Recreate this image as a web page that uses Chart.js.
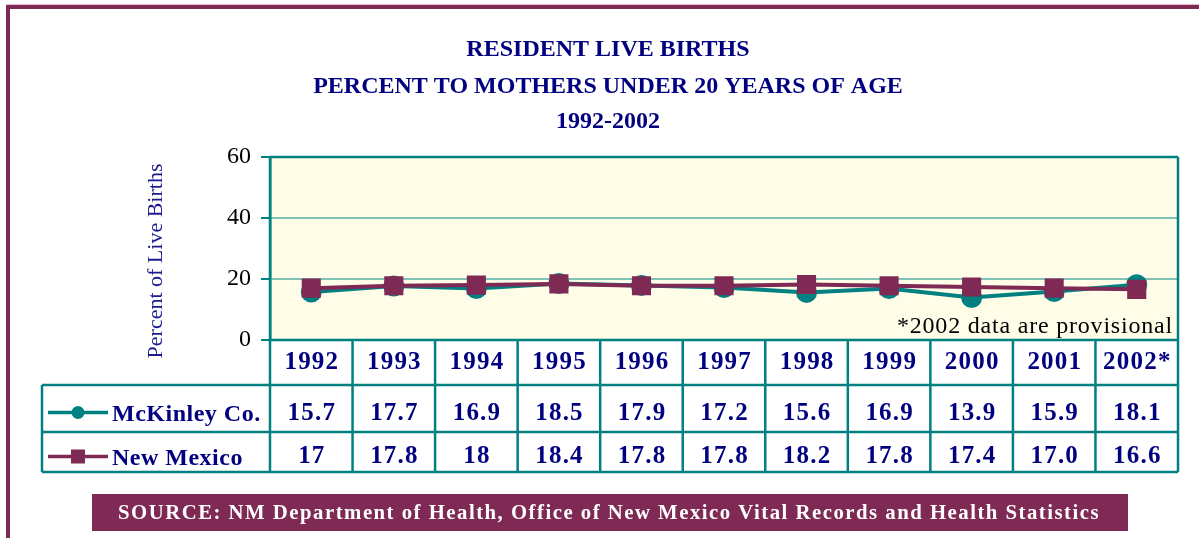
<!DOCTYPE html>
<html>
<head>
<meta charset="utf-8">
<script src="https://cdn.jsdelivr.net/npm/chart.js@4.4.1/dist/chart.umd.min.js"></script>
<style>
  body { margin: 0; background: #fff; }
  canvas { display: block; }
</style>
</head>
<body>
<canvas id="birthsChart" width="1199" height="538"></canvas>
<script>
// data
const years = ['1992', '1993', '1994', '1995', '1996', '1997', '1998', '1999', '2000', '2001', '2002'];
const yearLabels = ['1992', '1993', '1994', '1995', '1996', '1997', '1998', '1999', '2000', '2001', '2002*'];
const mckinley = [15.7, 17.7, 16.9, 18.5, 17.9, 17.2, 15.6, 16.9, 13.9, 15.9, 18.1];
const newMexico = [17, 17.8, 18, 18.4, 17.8, 17.8, 18.2, 17.8, 17.4, 17.0, 16.6];
const mckinleyText = ['15.7', '17.7', '16.9', '18.5', '17.9', '17.2', '15.6', '16.9', '13.9', '15.9', '18.1'];
const newMexicoText = ['17', '17.8', '18', '18.4', '17.8', '17.8', '18.2', '17.8', '17.4', '17.0', '16.6'];
const yTicks = [0, 20, 40, 60];

const titleLines = ['RESIDENT LIVE BIRTHS', 'PERCENT TO MOTHERS UNDER 20 YEARS OF AGE', '1992-2002'];
const yTitle = 'Percent of Live Births';
const noteText = '*2002 data are provisional';
const sourceText = 'SOURCE: NM Department of Health, Office of New Mexico Vital Records and Health Statistics';

const TEAL = '#008080';
const MAROON = '#7f2a55';
const NAVY = '#000080';
const SERIF = '"Liberation Serif", "Times New Roman", serif';

function line(ctx, x1, y1, x2, y2) {
  ctx.beginPath();
  ctx.moveTo(x1, y1);
  ctx.lineTo(x2, y2);
  ctx.stroke();
}

// background, frame and plot area fill
const backPlugin = {
  id: 'back',
  beforeDraw(chart) {
    const ctx = chart.ctx, a = chart.chartArea;
    ctx.save();
    ctx.fillStyle = '#fff';
    ctx.fillRect(0, 0, chart.width, chart.height);
    ctx.fillStyle = '#fffde8';
    ctx.fillRect(a.left, a.top, a.right - a.left, a.bottom - a.top);
    // outer frame (left + top)
    ctx.strokeStyle = '#e8b4cc';
    ctx.lineWidth = 1;
    line(ctx, 7, 4.5, chart.width, 4.5);
    ctx.strokeStyle = MAROON;
    ctx.lineWidth = 4;
    line(ctx, 8, 7, chart.width, 7);
    line(ctx, 8, 5, 8, chart.height);
    ctx.restore();
  }
};

// title, axis title, table, legend, note and source box
const tablePlugin = {
  id: 'table',
  afterDraw(chart) {
    const ctx = chart.ctx, a = chart.chartArea, x = chart.scales.x;
    const cw = x.getPixelForValue(1) - x.getPixelForValue(0);
    const rowLines = [385, 432, 472];
    const tableLeft = 42;
    ctx.save();

    // title
    ctx.fillStyle = NAVY;
    ctx.font = 'bold 24px ' + SERIF;
    ctx.textAlign = 'center';
    ctx.textBaseline = 'alphabetic';
    const titleBase = [56, 93, 128];
    titleLines.forEach((t, i) => ctx.fillText(t, 608, titleBase[i]));

    // y axis title
    ctx.save();
    ctx.translate(162, 261);
    ctx.rotate(-Math.PI / 2);
    ctx.fillStyle = '#1a1a8c';
    ctx.font = '22px ' + SERIF;
    ctx.fillText(yTitle, 0, 0);
    ctx.restore();

    // note inside the plot
    ctx.fillStyle = '#000';
    ctx.font = '24px ' + SERIF;
    ctx.textAlign = 'right';
    ctx.letterSpacing = '0.8px';
    ctx.fillText(noteText, a.right - 5, 333);

    // table grid
    ctx.strokeStyle = TEAL;
    ctx.lineWidth = 2.5;
    rowLines.forEach(y => line(ctx, tableLeft, y, a.right, y));
    line(ctx, tableLeft, rowLines[0], tableLeft, rowLines[2]);
    for (let i = 0; i <= years.length; i++) {
      const bx = x.getPixelForValue(0) - cw / 2 + i * cw;
      line(ctx, bx, (i === 0 || i === years.length) ? a.top : a.bottom, bx, rowLines[2]);
    }
    line(ctx, a.left, a.top, a.right, a.top);
    line(ctx, a.left, a.bottom, a.right, a.bottom);

    // table text
    ctx.fillStyle = NAVY;
    ctx.font = 'bold 25px ' + SERIF;
    ctx.textAlign = 'center';
    ctx.letterSpacing = '1.2px';
    years.forEach((y, i) => {
      const cx = x.getPixelForValue(i) + 0.6;
      ctx.fillText(yearLabels[i], cx, 369);
      ctx.fillText(mckinleyText[i], cx, 420);
      ctx.fillText(newMexicoText[i], cx, 463);
    });

    // legend cells
    ctx.lineWidth = 3.5;
    ctx.strokeStyle = TEAL;
    line(ctx, 48, 412.5, 108, 412.5);
    ctx.fillStyle = TEAL;
    ctx.beginPath();
    ctx.arc(78, 412.5, 6.5, 0, Math.PI * 2);
    ctx.fill();
    ctx.strokeStyle = MAROON;
    line(ctx, 48, 456.5, 108, 456.5);
    ctx.fillStyle = MAROON;
    ctx.fillRect(71, 449.5, 14, 14);
    ctx.fillStyle = NAVY;
    ctx.font = 'bold 24px ' + SERIF;
    ctx.textAlign = 'left';
    ctx.letterSpacing = '0.5px';
    ctx.fillText('McKinley Co.', 112, 421);
    ctx.fillText('New Mexico', 112, 465);

    // source box
    ctx.fillStyle = MAROON;
    ctx.fillRect(92, 494, 1036, 37);
    ctx.fillStyle = '#fff';
    ctx.font = 'bold 21px ' + SERIF;
    ctx.letterSpacing = '1.5px';
    const w = ctx.measureText(sourceText).width;
    const target = 982;
    ctx.textAlign = 'left';
    ctx.translate(118, 519);
    ctx.scale(target / w, 1);
    ctx.fillText(sourceText, 0, 0);
    ctx.restore();
  }
};

const chrt = document.getElementById('birthsChart');
const birthsChart = new Chart(chrt, {
  type: 'line',
  data: {
    labels: years,
    datasets: [{
      label: 'McKinley Co.',
      data: mckinley,
      borderColor: TEAL,
      backgroundColor: TEAL,
      borderWidth: 4,
      pointStyle: 'circle',
      pointRadius: 10.5,
      pointBorderWidth: 0,
      tension: 0,
      order: 1
    }, {
      label: 'New Mexico',
      data: newMexico,
      borderColor: MAROON,
      backgroundColor: MAROON,
      borderWidth: 4,
      pointStyle: 'rect',
      pointRadius: 13.5,
      pointBorderWidth: 0,
      tension: 0,
      order: 0
    }]
  },
  options: {
    responsive: false,
    animation: false,
    layout: { padding: { left: 140, top: 157, right: 21, bottom: 198 } },
    plugins: {
      legend: { display: false },
      title: { display: false },
      tooltip: { enabled: false }
    },
    scales: {
      x: { type: 'category', display: false, offset: true },
      y: {
        min: 0,
        max: 60,
        afterBuildTicks(scale) { scale.ticks = yTicks.map(v => ({ value: v })); },
        afterFit(scale) { scale.width = 130; },
        ticks: {
          color: '#000',
          font: { family: SERIF, size: 24 },
          padding: 10
        },
        grid: {
          color: '#7fc2b6',
          lineWidth: 2,
          tickColor: TEAL,
          tickLength: 9
        },
        border: { color: TEAL, width: 2.5 },
        title: { display: false }
      }
    }
  },
  plugins: [backPlugin, tablePlugin]
});
</script>
</body>
</html>
